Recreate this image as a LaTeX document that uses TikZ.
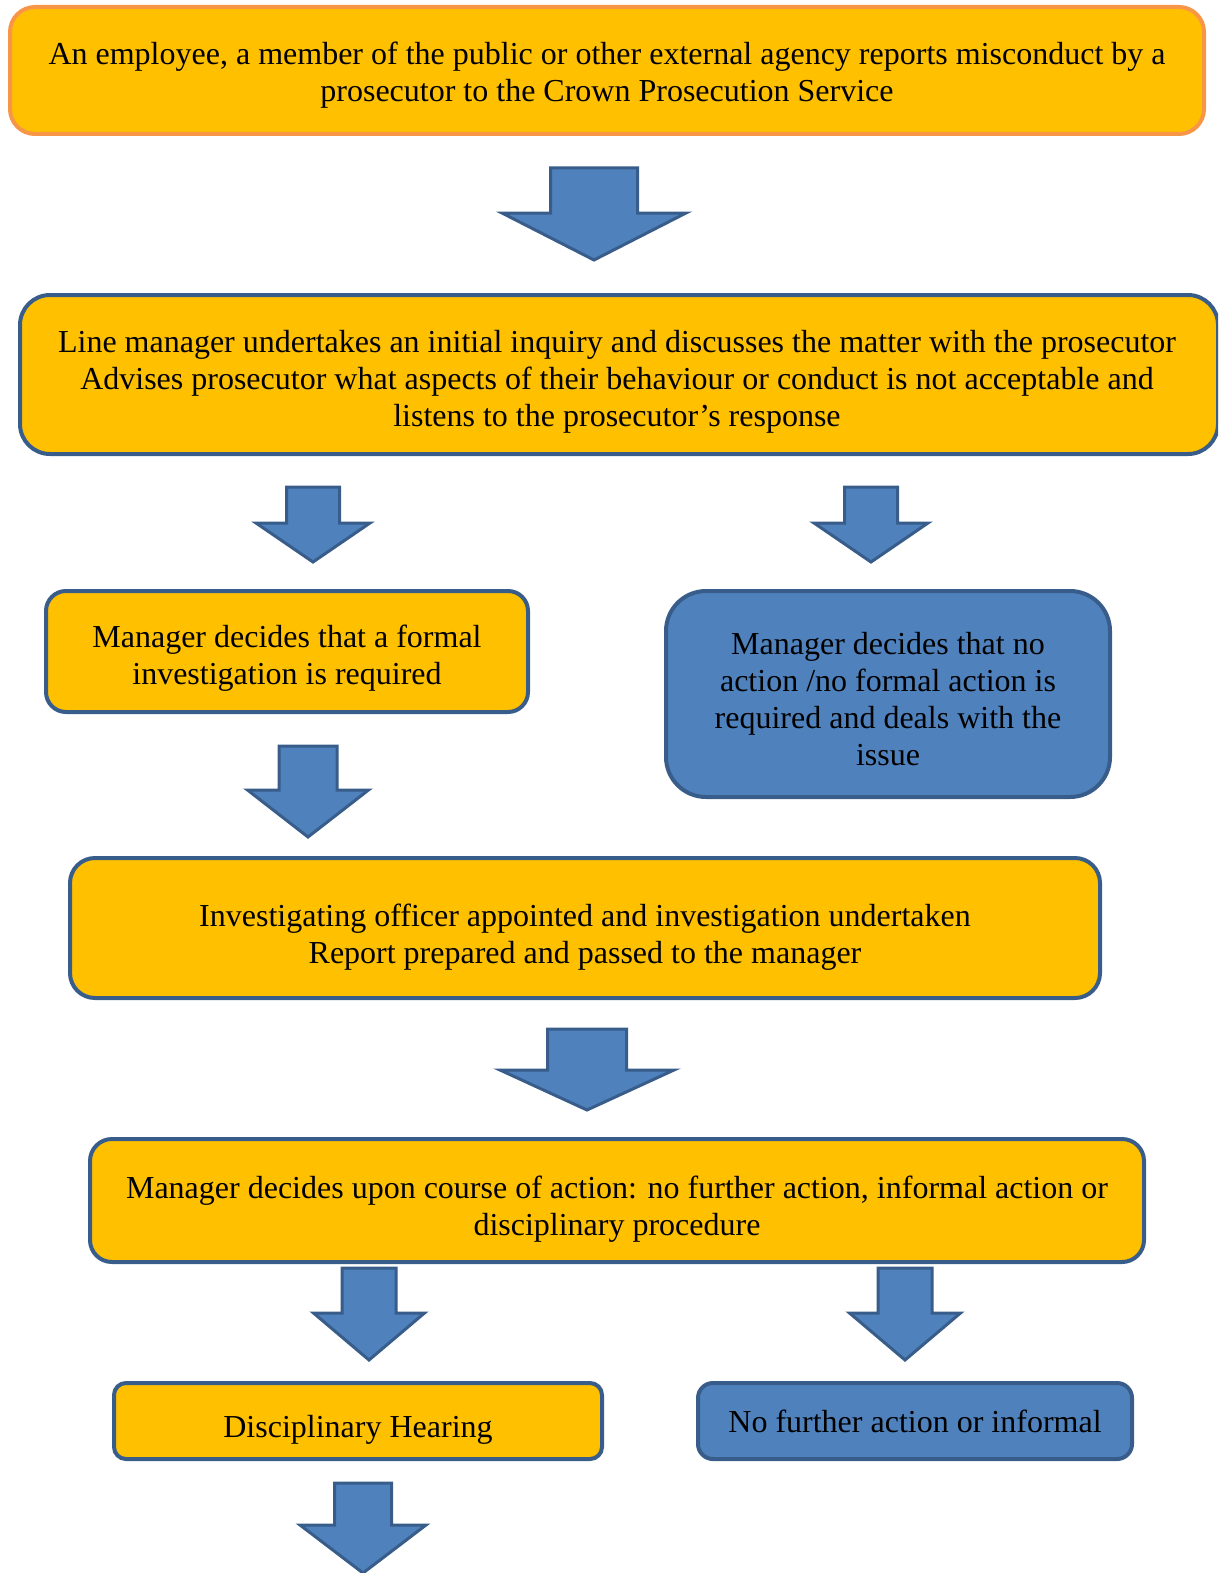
\documentclass[tikz,border=0pt]{standalone}
\usepackage{fontspec}
\setmainfont{Liberation Serif}
\usetikzlibrary{positioning}
\definecolor{gold}{RGB}{255,192,0}
\definecolor{peach}{RGB}{247,150,70}
\definecolor{steel}{RGB}{79,129,189}
\definecolor{navy}{RGB}{56,93,138}
\newcommand{\boxfont}{\fontsize{32}{37}\selectfont}
\tikzset{
  stage/.style={draw=navy,fill=#1,line width=4pt,inner sep=0pt},
  stage/.default=gold,
  txt/.style={align=center,font=\boxfont,inner sep=0pt},
  arrowbox/.style={draw=navy,fill=steel,line width=3pt,line join=miter},
  % block arrow: shaft half width / shaft length / head half width / total length
  pics/blockdown/.style args={#1/#2/#3/#4}{code={
    \draw[arrowbox] (-#1,0) -- (#1,0) -- (#1,#2) -- (#3,#2) -- (0,#4)
      -- (-#3,#2) -- (-#1,#2) -- cycle;
  }},
}

\begin{document}
\begin{tikzpicture}[x=1pt,y=-1pt]
  \useasboundingbox (0,0) rectangle (1218,1573);
  \clip (0,0) rectangle (1218,1573);

  \node[stage,draw=peach,rounded corners=25pt,minimum width=1194pt,minimum height=127pt]
    (report) at (607,70.5) {};
  \node[txt] (report-t) at ([yshift=-5pt]report.center)
    {An employee, a member of the public or other external agency reports misconduct by a\\
    prosecutor to the Crown Prosecution Service};
  \pic at (594,168) {blockdown=43.5/45/92/92};

  \node[stage,rounded corners=30pt,minimum width=1198pt,minimum height=159pt]
    (inquiry) at (619,374.5) {};
  \node[txt] (inquiry-t) at ([yshift=-7pt]617,374.5)
    {Line manager undertakes an initial inquiry and discusses the matter with the prosecutor\\
    Advises prosecutor what aspects of their behaviour or conduct is not acceptable and\\
    listens to the prosecutor’s response};
  \pic at (313,487) {blockdown=26.5/36/57/75};
  \pic at (871,487) {blockdown=26.5/36/57/75};

  \node[stage,rounded corners=20pt,minimum width=482pt,minimum height=121pt]
    (formal) at (287,651.5) {};
  \node[txt] (formal-t) at ([yshift=-7pt]formal.center)
    {Manager decides that a formal\\investigation is required};
  \node[stage=steel,rounded corners=40pt,minimum width=444pt,minimum height=206pt]
    (noaction) at (888,694) {};
  \node[txt] (noaction-t) at ([yshift=-5pt]noaction.center)
    {Manager decides that no\\action /no formal action is\\required and deals with the\\issue};
  \pic at (308,746) {blockdown=29/44/60.5/91};

  \node[stage,rounded corners=25pt,minimum width=1030pt,minimum height=140pt]
    (investigate) at (585,928) {};
  \node[txt] (investigate-t) at ([yshift=-9pt]investigate.center)
    {Investigating officer appointed and investigation undertaken\\
    Report prepared and passed to the manager};
  \pic at (587,1029) {blockdown=39.5/41/87/81};

  \node[stage,rounded corners=22pt,minimum width=1054pt,minimum height=123pt]
    (decide) at (617,1200.5) {};
  \node[txt] (decide-t) at ([yshift=-9pt]decide.center)
    {Manager decides upon course of action: no further action, informal action or\\
    disciplinary procedure};
  \pic at (369,1268) {blockdown=27/45/55.5/92};
  \pic at (905,1268) {blockdown=27/45/55.5/92};

  \node[stage,rounded corners=12pt,minimum width=488pt,minimum height=76pt]
    (hearing) at (358,1421) {};
  \node[txt] (hearing-t) at ([yshift=-9pt]hearing.center) {Disciplinary Hearing};
  \node[stage=steel,rounded corners=15pt,minimum width=434pt,minimum height=76pt]
    (informal) at (915,1421) {};
  \node[txt] (informal-t) at (informal.center) {No further action or informal};
  \pic at (363,1483) {blockdown=28.5/42/63/90};
\end{tikzpicture}
\end{document}
